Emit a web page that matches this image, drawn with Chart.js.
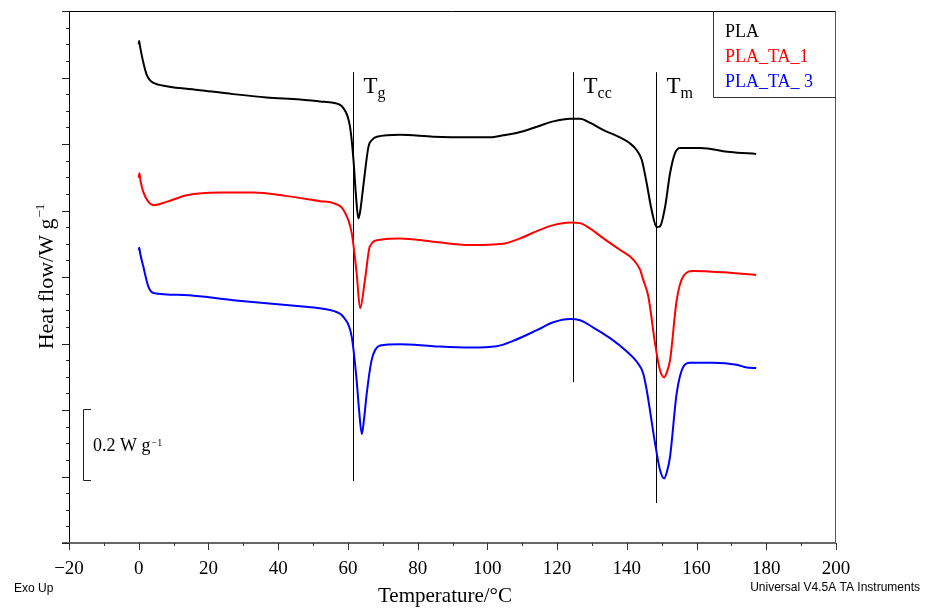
<!DOCTYPE html>
<html>
<head>
<meta charset="utf-8">
<title>DSC – PLA</title>
<script src="https://cdn.jsdelivr.net/npm/chart.js@4.4.1/dist/chart.umd.min.js"></script>
<style>
  html, body { margin: 0; padding: 0; background: #fff; }
  #wrap { position: relative; width: 936px; height: 610px; }
</style>
</head>
<body>
<div id="wrap"><canvas id="dsc"></canvas></div>
<script>
// Heat flow, in plot divisions (exo up, curves stacked)
const plaTemp = [0.0, 0.1, 0.4, 1.3, 2.3, 3.2, 4.2, 8.0, 17.6, 27.1, 36.7, 46.3, 52.0, 55.8, 58.7, 60.6, 61.6, 62.3, 63.0, 63.5,
    64.4, 65.9, 66.9, 68.3, 74.9, 84.5, 95.0, 100.8, 104.6, 109.4, 114.2, 118.9, 123.7, 126.6, 129.4, 133.3, 138.0, 140.9, 142.8, 144.3,
    145.7, 147.1, 148.6, 149.5, 151.0, 152.4, 153.8, 155.3, 158.1, 161.0, 169.6, 177.1];
const plaFlow = [7.50, 7.55, 7.46, 7.23, 7.04, 6.96, 6.92, 6.87, 6.81, 6.75, 6.70, 6.67, 6.64, 6.62, 6.54, 6.26, 5.76, 5.23, 4.88, 4.98,
    5.36, 5.96, 6.06, 6.11, 6.14, 6.11, 6.10, 6.10, 6.13, 6.18, 6.26, 6.34, 6.38, 6.38, 6.32, 6.21, 6.10, 6.01, 5.91, 5.76,
    5.41, 5.01, 4.75, 4.76, 5.06, 5.56, 5.86, 5.94, 5.94, 5.94, 5.88, 5.85];

const ta1Temp = [0.0, 0.2, 0.5, 1.3, 2.8, 4.2, 8.0, 13.8, 23.3, 32.9, 42.0, 52.0, 55.8, 58.7, 61.1, 62.5, 63.5, 64.9, 66.3, 69.2,
    74.9, 84.5, 95.0, 104.6, 109.4, 114.2, 118.9, 123.7, 126.6, 129.4, 133.3, 138.0, 141.9, 143.8, 144.7, 146.2, 148.1, 149.5, 150.7, 151.5,
    152.4, 154.3, 156.2, 159.1, 167.7, 177.1];
const ta1Flow = [5.49, 5.56, 5.45, 5.28, 5.13, 5.08, 5.13, 5.23, 5.27, 5.27, 5.22, 5.14, 5.11, 5.01, 4.66, 4.06, 3.53, 3.96, 4.46, 4.56,
    4.58, 4.53, 4.48, 4.50, 4.58, 4.69, 4.78, 4.82, 4.81, 4.73, 4.58, 4.41, 4.26, 4.11, 3.96, 3.70, 3.00, 2.60, 2.49, 2.57,
    2.75, 3.65, 4.01, 4.09, 4.07, 4.03];

const ta3Temp = [0.0, 0.15, 0.4, 1.3, 2.8, 4.2, 12.8, 27.1, 46.3, 52.0, 55.8, 58.7, 61.1, 62.5, 63.2, 64.0, 64.6, 65.4, 66.8, 69.2,
    74.9, 84.5, 95.0, 102.7, 107.4, 114.2, 118.9, 123.7, 126.6, 130.4, 135.2, 140.0, 142.8, 144.7, 145.7, 148.1, 149.5, 150.7, 151.5, 152.4,
    154.3, 156.2, 158.1, 164.8, 171.5, 174.4, 177.1];
const ta3Flow = [4.40, 4.44, 4.36, 4.16, 3.85, 3.76, 3.73, 3.65, 3.56, 3.53, 3.49, 3.40, 3.10, 2.45, 2.00, 1.64, 1.85, 2.25, 2.75, 2.97,
    2.99, 2.96, 2.94, 2.96, 3.04, 3.20, 3.32, 3.37, 3.35, 3.24, 3.08, 2.88, 2.73, 2.55, 2.30, 1.50, 1.10, 0.97, 1.07, 1.30,
    2.25, 2.65, 2.71, 2.71, 2.68, 2.64, 2.63];

const seriesNames = ["PLA", "PLA_TA_1", "PLA_TA_ 3"];

const xTickValues = [-20, 0, 20, 40, 60, 80, 100, 120, 140, 160, 180, 200];
const xTickLabels = ["\u221220", "0", "20", "40", "60", "80", "100", "120", "140", "160", "180", "200"];

// Tg, Tcc, Tm marker lines (°C) and where each one stops at the bottom
const transitionSubs = ["g", "cc", "m"];
const transitionTemps = [61.5, 124.5, 148.4];
const transitionLow = [0.93, 2.42, 0.60];
const transitionHigh = 7.08;

// 0.2 W g-1 scale bar, in plot divisions
const scaleBarRange = [0.94, 2.01];

const SERIF = '"Liberation Serif", "Times New Roman", serif';
const SANS = '"Liberation Sans", Arial, sans-serif';

function toPoints(xs, ys) {
    return xs.map((t, i) => ({ x: t, y: ys[i] }));
}

// draws superscript text right after a main string
function textWithSup(ctx, x, y, main, sup, mainFont, supFont, rise) {
    ctx.font = mainFont;
    ctx.fillText(main, x, y);
    const w = ctx.measureText(main).width;
    ctx.font = supFont;
    ctx.fillText(sup, x + w + 1, y - rise);
}

const dscDecor = {
    id: "dscDecor",
    beforeDatasetsDraw(chart) {
        const { ctx, scales: { x, y } } = chart;
        ctx.save();
        ctx.strokeStyle = "#000";
        ctx.fillStyle = "#000";
        ctx.lineWidth = 1;
        transitionTemps.forEach((t, i) => {
            const px = Math.round(x.getPixelForValue(t)) + 0.5;
            ctx.beginPath();
            ctx.moveTo(px, y.getPixelForValue(transitionHigh));
            ctx.lineTo(px, y.getPixelForValue(transitionLow[i]));
            ctx.stroke();
            ctx.font = "23px " + SERIF;
            ctx.textAlign = "left";
            ctx.fillText("T", px + 10, 93);
            const w = ctx.measureText("T").width;
            ctx.font = "16px " + SERIF;
            ctx.fillText(transitionSubs[i], px + 10 + w, 98);
        });
        ctx.restore();
    },
    afterDraw(chart) {
        const { ctx, chartArea: a, scales: { x, y } } = chart;
        ctx.save();

        // frame
        ctx.lineWidth = 1;
        ctx.strokeStyle = "#000";
        ctx.beginPath();
        ctx.moveTo(a.left, a.top + 0.5);
        ctx.lineTo(a.right, a.top + 0.5);
        ctx.stroke();
        ctx.beginPath();
        ctx.moveTo(a.left + 0.5, a.top);
        ctx.lineTo(a.left + 0.5, a.bottom);
        ctx.stroke();
        ctx.strokeStyle = "#555";
        ctx.beginPath();
        ctx.moveTo(a.right - 0.5, a.top);
        ctx.lineTo(a.right - 0.5, a.bottom);
        ctx.stroke();
        ctx.lineWidth = 2;
        ctx.strokeStyle = "#666";
        ctx.beginPath();
        ctx.moveTo(a.left - 7, a.bottom);
        ctx.lineTo(a.right, a.bottom);
        ctx.stroke();

        // y ticks (no labels)
        ctx.lineWidth = 1;
        ctx.strokeStyle = "#222";
        for (let v = 0; v <= 8.001; v += 0.25) {
            const py = Math.round(y.getPixelForValue(v)) + 0.5;
            const len = Math.abs(v - Math.round(v)) < 0.01 ? 7 : 3;
            ctx.beginPath();
            ctx.moveTo(a.left - len, py);
            ctx.lineTo(a.left, py);
            ctx.stroke();
        }

        // x ticks and labels
        ctx.strokeStyle = "#333";
        for (let v = -20; v <= 200; v += 10) {
            const px = Math.round(x.getPixelForValue(v)) + 0.5;
            const len = v % 20 === 0 ? 7 : 3;
            ctx.beginPath();
            ctx.moveTo(px, a.bottom);
            ctx.lineTo(px, a.bottom + len);
            ctx.stroke();
        }
        ctx.fillStyle = "#000";
        ctx.textAlign = "center";
        ctx.textBaseline = "alphabetic";
        ctx.font = "19px " + SERIF;
        xTickValues.forEach((v, i) => {
            ctx.fillText(xTickLabels[i], x.getPixelForValue(v), 574);
        });

        // axis titles
        ctx.font = "21px " + SERIF;
        ctx.fillText("Temperature/\u00B0C", 445, 602);

        ctx.save();
        ctx.translate(53, 277);
        ctx.rotate(-Math.PI / 2);
        ctx.font = "22px " + SERIF;
        const mainW = ctx.measureText("Heat flow/W g").width;
        ctx.font = "13px " + SERIF;
        const supW = ctx.measureText("\u22121").width;
        ctx.textAlign = "left";
        textWithSup(ctx, -(mainW + supW) / 2, 0, "Heat flow/W g", "\u22121",
            "22px " + SERIF, "13px " + SERIF, 9);
        ctx.restore();

        // legend box
        ctx.strokeStyle = "#333";
        ctx.lineWidth = 1;
        ctx.beginPath();
        ctx.moveTo(713.5, a.top);
        ctx.lineTo(713.5, 97.5);
        ctx.lineTo(a.right, 97.5);
        ctx.stroke();
        ctx.textAlign = "left";
        ctx.font = "18px " + SERIF;
        chart.data.datasets.forEach((ds, i) => {
            ctx.fillStyle = ds.borderColor;
            ctx.fillText(seriesNames[i], 725, 37 + i * 25);
        });

        // scale bar
        const yTop = Math.round(y.getPixelForValue(scaleBarRange[1])) + 0.5;
        const yBot = Math.round(y.getPixelForValue(scaleBarRange[0])) + 0.5;
        ctx.strokeStyle = "#222";
        ctx.beginPath();
        ctx.moveTo(91, yTop);
        ctx.lineTo(83.5, yTop);
        ctx.lineTo(83.5, yBot);
        ctx.lineTo(91, yBot);
        ctx.stroke();
        ctx.fillStyle = "#000";
        textWithSup(ctx, 93, 451, "0.2 W g", "\u22121", "18px " + SERIF, "10px " + SERIF, 5);

        // instrument footers
        ctx.font = "12px " + SANS;
        ctx.textAlign = "left";
        ctx.fillText("Exo Up", 14, 592);
        ctx.textAlign = "right";
        ctx.fillText("Universal V4.5A TA Instruments", 920, 591);

        ctx.restore();
    }
};

new Chart(document.getElementById("dsc"), {
    type: "scatter",
    data: {
        datasets: [
            { label: seriesNames[0], data: toPoints(plaTemp, plaFlow), borderColor: "#000000" },
            { label: seriesNames[1], data: toPoints(ta1Temp, ta1Flow), borderColor: "#ff0000" },
            { label: seriesNames[2], data: toPoints(ta3Temp, ta3Flow), borderColor: "#0000ff" }
        ]
    },
    options: {
        responsive: true,
        maintainAspectRatio: false,
        animation: false,
        events: [],
        layout: { padding: { left: 69, right: 100, top: 11, bottom: 67 } },
        elements: {
            point: { radius: 0 },
            line: { borderWidth: 2, cubicInterpolationMode: "monotone", fill: false }
        },
        datasets: { scatter: { showLine: true } },
        plugins: { legend: { display: false }, tooltip: { enabled: false } },
        scales: {
            x: { type: "linear", min: -20, max: 200, display: false },
            y: { type: "linear", min: 0, max: 8, display: false }
        }
    },
    plugins: [dscDecor]
});
</script>
</body>
</html>
